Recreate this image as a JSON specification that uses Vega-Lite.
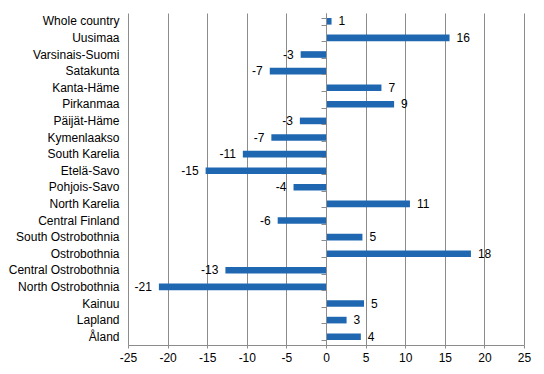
{
  "$schema": "https://vega.github.io/schema/vega-lite/v6.json",
  "width": 396,
  "height": 332,
  "autosize": {"type": "none"},
  "padding": {"left": 128, "top": 13, "right": 20, "bottom": 29},
  "background": "white",
  "config": {
    "view": {"stroke": null},
    "locale": {"number": {"decimal": ".", "thousands": ",", "grouping": [3], "currency": ["$", ""], "minus": "-"}},
    "axis": {"labelFont": "Liberation Sans", "labelFontSize": 12, "labelColor": "#000000", "titleFont": "Liberation Sans"},
    "text": {"font": "Liberation Sans", "fontSize": 12, "color": "#000000"}
  },
  "data": {
    "values": [
      {"region": "Whole country", "value": 0.7, "label": 1},
      {"region": "Uusimaa", "value": 15.6, "label": 16},
      {"region": "Varsinais-Suomi", "value": -3.2, "label": -3},
      {"region": "Satakunta", "value": -7.1, "label": -7},
      {"region": "Kanta-Häme", "value": 7.0, "label": 7},
      {"region": "Pirkanmaa", "value": 8.6, "label": 9},
      {"region": "Päijät-Häme", "value": -3.3, "label": -3},
      {"region": "Kymenlaakso", "value": -6.9, "label": -7},
      {"region": "South Karelia", "value": -10.5, "label": -11},
      {"region": "Etelä-Savo", "value": -15.2, "label": -15},
      {"region": "Pohjois-Savo", "value": -4.1, "label": -4},
      {"region": "North Karelia", "value": 10.6, "label": 11},
      {"region": "Central Finland", "value": -6.1, "label": -6},
      {"region": "South Ostrobothnia", "value": 4.6, "label": 5},
      {"region": "Ostrobothnia", "value": 18.3, "label": 18},
      {"region": "Central Ostrobothnia", "value": -12.7, "label": -13},
      {"region": "North Ostrobothnia", "value": -21.1, "label": -21},
      {"region": "Kainuu", "value": 4.8, "label": 5},
      {"region": "Lapland", "value": 2.6, "label": 3},
      {"region": "Åland", "value": 4.4, "label": 4}
    ]
  },
  "layer": [
    {
      "mark": {"type": "bar", "color": "#1f68b1"},
      "encoding": {
        "y": {"field": "region", "type": "nominal", "sort": null,
              "scale": {"paddingInner": 0.6, "paddingOuter": 0.3},
              "axis": {"title": null, "ticks": false, "domain": false, "labelPadding": 9}},
        "x": {"field": "value", "type": "quantitative",
              "scale": {"domain": [-25, 25], "nice": false, "zero": false},
              "axis": {"title": null, "values": [-25, -20, -15, -10, -5, 0, 5, 10, 15, 20, 25], "tickCount": 11,
                       "labelOverlap": false, "labelFlush": false,
                       "grid": true, "gridColor": "#8c8c8c", "gridWidth": 1,
                       "domainColor": "#8c8c8c", "tickColor": "#8c8c8c", "tickSize": 3, "labelPadding": 4}}
      }
    },
    {
      "transform": [{"filter": "datum.value >= 0"}],
      "mark": {"type": "text", "align": "left", "baseline": "middle", "dx": 7},
      "encoding": {
        "y": {"field": "region", "type": "nominal", "sort": null,
              "axis": {"title": null, "orient": "left", "offset": -198, "labels": false, "ticks": true, "tickSize": 5,
                       "tickBand": "extent", "domain": true, "domainColor": "#8c8c8c", "tickColor": "#8c8c8c",
                       "grid": false, "zindex": 1}},
        "x": {"field": "value", "type": "quantitative"},
        "text": {"field": "label", "type": "quantitative"}
      }
    },
    {
      "transform": [{"filter": "datum.value < 0"}],
      "mark": {"type": "text", "align": "right", "baseline": "middle", "dx": -7},
      "encoding": {
        "y": {"field": "region", "type": "nominal", "sort": null, "axis": null},
        "x": {"field": "value", "type": "quantitative"},
        "text": {"field": "label", "type": "quantitative"}
      }
    }
  ],
  "resolve": {"axis": {"y": "independent"}}
}
